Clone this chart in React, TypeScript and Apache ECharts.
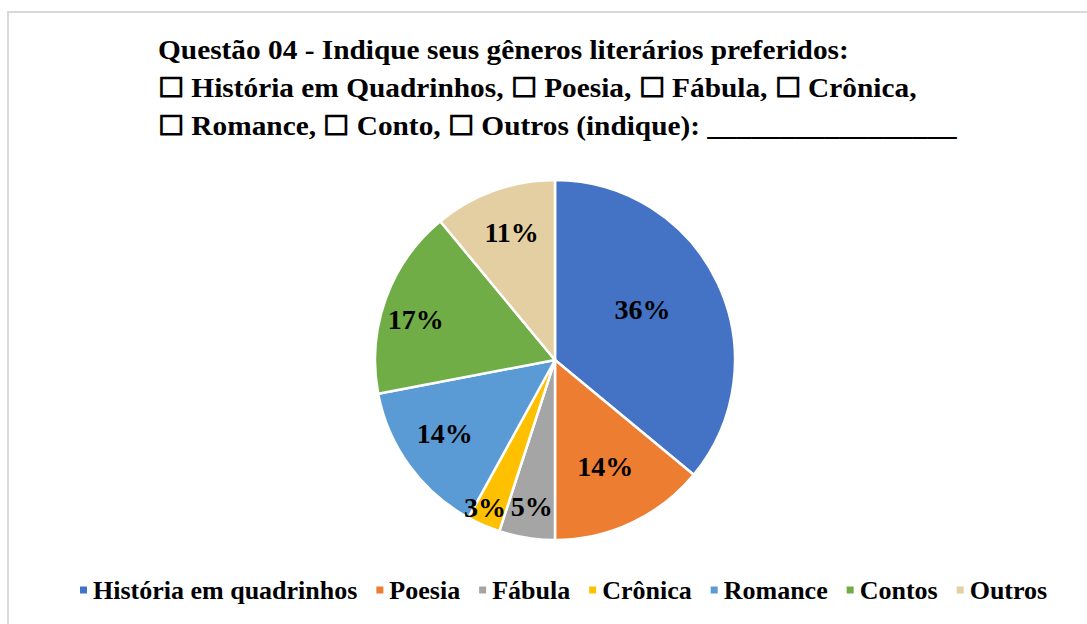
import React, { useEffect, useRef } from "react";
import * as echarts from "echarts";

const categories = ["História em quadrinhos", "Poesia", "Fábula", "Crônica", "Romance", "Contos", "Outros"];
const values = [36, 14, 5, 3, 14, 17, 11];
const colors = ["#4472C4", "#ED7D31", "#A5A5A5", "#FFC000", "#5B9BD5", "#70AD47", "#E3CFA2"];
const titleLines = [
  "Questão 04 - Indique seus gêneros literários preferidos:",
  "☐ História em Quadrinhos, ☐ Poesia, ☐ Fábula, ☐ Crônica,",
  "☐ Romance, ☐ Conto, ☐ Outros (indique): _________________",
];
// label placement: fraction of radius and angular tweak (degrees) per slice
const labelRadius = [0.545, 0.64, 0.81, 0.89, 0.72, 0.79, 0.73];
const labelAngleTweak = [5, 0, 0, -2, -2.3, 3.5, -1];

const SERIF = "'Liberation Serif', 'Times New Roman', serif";

export default function App() {
  const ref = useRef<HTMLDivElement>(null);
  useEffect(() => {
    document.body.style.margin = "0";
    const chart = echarts.init(ref.current!, null, { renderer: "svg" });
    const R = 180;
    const total = values.reduce((a, b) => a + b, 0);
    let cum = 0;
    const data = values.map((v, i) => {
      const midDeg = 90 - (360 * (cum + v / 2)) / total;
      cum += v;
      const mid = ((midDeg + labelAngleTweak[i]) * Math.PI) / 180;
      const mid0 = (midDeg * Math.PI) / 180;
      const kr = labelRadius[i] * R;
      const dx = kr * Math.cos(mid) - 0.5 * R * Math.cos(mid0);
      const dy = -kr * Math.sin(mid) + 0.5 * R * Math.sin(mid0);
      return {
        name: categories[i],
        value: v,
        itemStyle: { color: colors[i] },
        label: { offset: [dx, dy] },
      };
    });
    const titleY = [50, 88, 126];
    chart.setOption({
      animation: false,
      graphic: [
        {
          type: "rect",
          shape: { x: 8, y: 12, width: 1300, height: 1000 },
          style: { fill: "none", stroke: "#d9d9d9", lineWidth: 2 },
          silent: true,
        },
        ...titleLines.map((t, i) => ({
          type: "text",
          x: 158,
          y: titleY[i],
          scaleX: 1.087,
          style: {
            text: t,
            font: `bold 27px ${SERIF}`,
            fill: "#000",
            textVerticalAlign: "middle",
          },
        })),
      ],
      legend: {
        bottom: 16,
        left: 73,
        itemWidth: 9,
        itemHeight: 9,
        itemGap: 17,
        icon: "rect",
        textStyle: {
          fontFamily: SERIF,
          fontWeight: "bold",
          fontSize: 26,
          color: "#000",
        },
        data: categories,
      },
      series: [
        {
          type: "pie",
          center: [555, 360],
          radius: R,
          startAngle: 90,
          clockwise: true,
          itemStyle: { borderColor: "#fff", borderWidth: 2.5 },
          label: {
            show: true,
            position: "inside",
            formatter: "{c}%",
            fontFamily: SERIF,
            fontWeight: "bold",
            fontSize: 28,
            color: "#000",
          },
          labelLine: { show: false },
          emphasis: { disabled: true },
          data,
        },
      ],
    });
    return () => chart.dispose();
  }, []);
  return <div ref={ref} style={{ width: 1087, height: 624 }} />;
}
